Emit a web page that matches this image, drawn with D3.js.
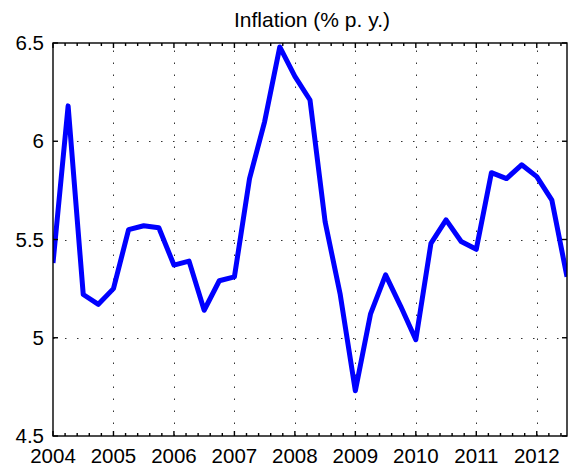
<!DOCTYPE html>
<html>
<head>
<meta charset="utf-8">
<script src="https://cdn.jsdelivr.net/npm/d3@7"></script>
<style>
	body { margin: 0; background: #fff; }
	text { font-family: "Liberation Sans", Arial, Helvetica, sans-serif; fill: #000; }
</style>
</head>
<body>
<div id="chart"></div>
<script>
// quarterly observations, 2004Q1 .. 2012Q3
const quarters = [
	"2004Q1", "2004Q2", "2004Q3", "2004Q4",
	"2005Q1", "2005Q2", "2005Q3", "2005Q4",
	"2006Q1", "2006Q2", "2006Q3", "2006Q4",
	"2007Q1", "2007Q2", "2007Q3", "2007Q4",
	"2008Q1", "2008Q2", "2008Q3", "2008Q4",
	"2009Q1", "2009Q2", "2009Q3", "2009Q4",
	"2010Q1", "2010Q2", "2010Q3", "2010Q4",
	"2011Q1", "2011Q2", "2011Q3", "2011Q4",
	"2012Q1", "2012Q2", "2012Q3",
];
const inflation = [
	5.38, 6.18, 5.22, 5.17,
	5.25, 5.55, 5.57, 5.56,
	5.37, 5.39, 5.14, 5.29,
	5.31, 5.81, 6.10, 6.48,
	6.33, 6.21, 5.59, 5.22,
	4.73, 5.12, 5.32, 5.16,
	4.99, 5.48, 5.60, 5.49,
	5.45, 5.84, 5.81, 5.88,
	5.82, 5.70, 5.31,
];
const xTicks = [2004, 2005, 2006, 2007, 2008, 2009, 2010, 2011, 2012];
const yTicks = [4.5, 5, 5.5, 6, 6.5];
const title = "Inflation (% p. y.)";

const width = 574;
const height = 471;
const margin = {top: 43, right: 7, bottom: 35, left: 53};
const fontSize = 20.5;

// "2004Q1" -> 2004.0, "2004Q2" -> 2004.25 ...
const toYear = (q) => +q.slice(0, 4) + (+q.slice(5) - 1) / 4;
const series = quarters.map((q, i) => ({t: toYear(q), v: inflation[i]}));

const x = d3.scaleLinear().domain([2004, 2012.5]).range([margin.left, width - margin.right]);
const y = d3.scaleLinear().domain([4.5, 6.5]).range([height - margin.bottom, margin.top]);

const x0 = x.range()[0], x1 = x.range()[1];
const y0 = y.range()[0], y1 = y.range()[1];

const svg = d3.select("#chart")
	.append("svg")
	.attr("width", width)
	.attr("height", height);

// minor ticks every 0.2 years between the majors
const minorTicks = d3.range(2004, 2012.5, 0.2).filter((t) => Math.abs(t - Math.round(t)) > 0.01);

const grid = svg.append("g").attr("class", "grid")
	.attr("stroke", "#333")
	.attr("stroke-width", 1)
	.attr("stroke-dasharray", "1.5,10.5");

grid.selectAll(".vgrid")
	.data(xTicks.slice(1))
	.enter()
	.append("line")
	.attr("x1", (d) => Math.round(x(d)) + 0.5)
	.attr("x2", (d) => Math.round(x(d)) + 0.5)
	.attr("y1", y0)
	.attr("y2", y1);

grid.selectAll(".hgrid")
	.data(yTicks.slice(1, -1))
	.enter()
	.append("line")
	.attr("x1", x0)
	.attr("x2", x1)
	.attr("y1", (d) => Math.round(y(d)) + 0.5)
	.attr("y2", (d) => Math.round(y(d)) + 0.5);

svg.append("clipPath")
	.attr("id", "plot-area")
	.append("rect")
	.attr("x", x0)
	.attr("y", y1)
	.attr("width", x1 - x0)
	.attr("height", y0 - y1);

const line = d3.line()
	.x((d) => x(d.t))
	.y((d) => y(d.v));

svg.append("path")
	.datum(series)
	.attr("clip-path", "url(#plot-area)")
	.attr("fill", "none")
	.attr("stroke", "#0000ff")
	.attr("stroke-width", 5)
	.attr("stroke-linejoin", "round")
	.attr("d", line);

// axes box with inward ticks on all four sides (matlab style)
const axes = svg.append("g").attr("class", "axes")
	.attr("stroke", "#000")
	.attr("stroke-width", 1.4)
	.attr("fill", "none");

axes.append("rect")
	.attr("x", x0)
	.attr("y", y1)
	.attr("width", x1 - x0)
	.attr("height", y0 - y1);

const majorLen = 5;
const minorLen = 3;

[[y0, -1], [y1, 1]].forEach(([yy, dir]) => {
	axes.selectAll(null)
		.data(xTicks)
		.enter()
		.append("line")
		.attr("x1", (d) => x(d))
		.attr("x2", (d) => x(d))
		.attr("y1", yy)
		.attr("y2", yy + dir * majorLen);
	axes.selectAll(null)
		.data(minorTicks)
		.enter()
		.append("line")
		.attr("x1", (d) => x(d))
		.attr("x2", (d) => x(d))
		.attr("y1", yy)
		.attr("y2", yy + dir * minorLen);
});

[[x0, 1], [x1, -1]].forEach(([xx, dir]) => {
	axes.selectAll(null)
		.data(yTicks)
		.enter()
		.append("line")
		.attr("x1", xx)
		.attr("x2", xx + dir * majorLen)
		.attr("y1", (d) => y(d))
		.attr("y2", (d) => y(d));
});

// tick labels
svg.selectAll(".xlabel")
	.data(xTicks)
	.enter()
	.append("text")
	.attr("class", "xlabel")
	.attr("x", (d) => x(d))
	.attr("y", y0 + 27)
	.attr("text-anchor", "middle")
	.style("font-size", fontSize + "px")
	.text((d) => d);

svg.selectAll(".ylabel")
	.data(yTicks)
	.enter()
	.append("text")
	.attr("class", "ylabel")
	.attr("x", x0 - 9)
	.attr("y", (d) => y(d))
	.attr("dy", ".35em")
	.attr("text-anchor", "end")
	.style("font-size", fontSize + "px")
	.text((d) => d);

svg.append("text")
	.attr("x", (x0 + x1) / 2 + 2)
	.attr("y", y1 - 16)
	.attr("text-anchor", "middle")
	.style("font-size", "21px")
	.text(title);
</script>
</body>
</html>
